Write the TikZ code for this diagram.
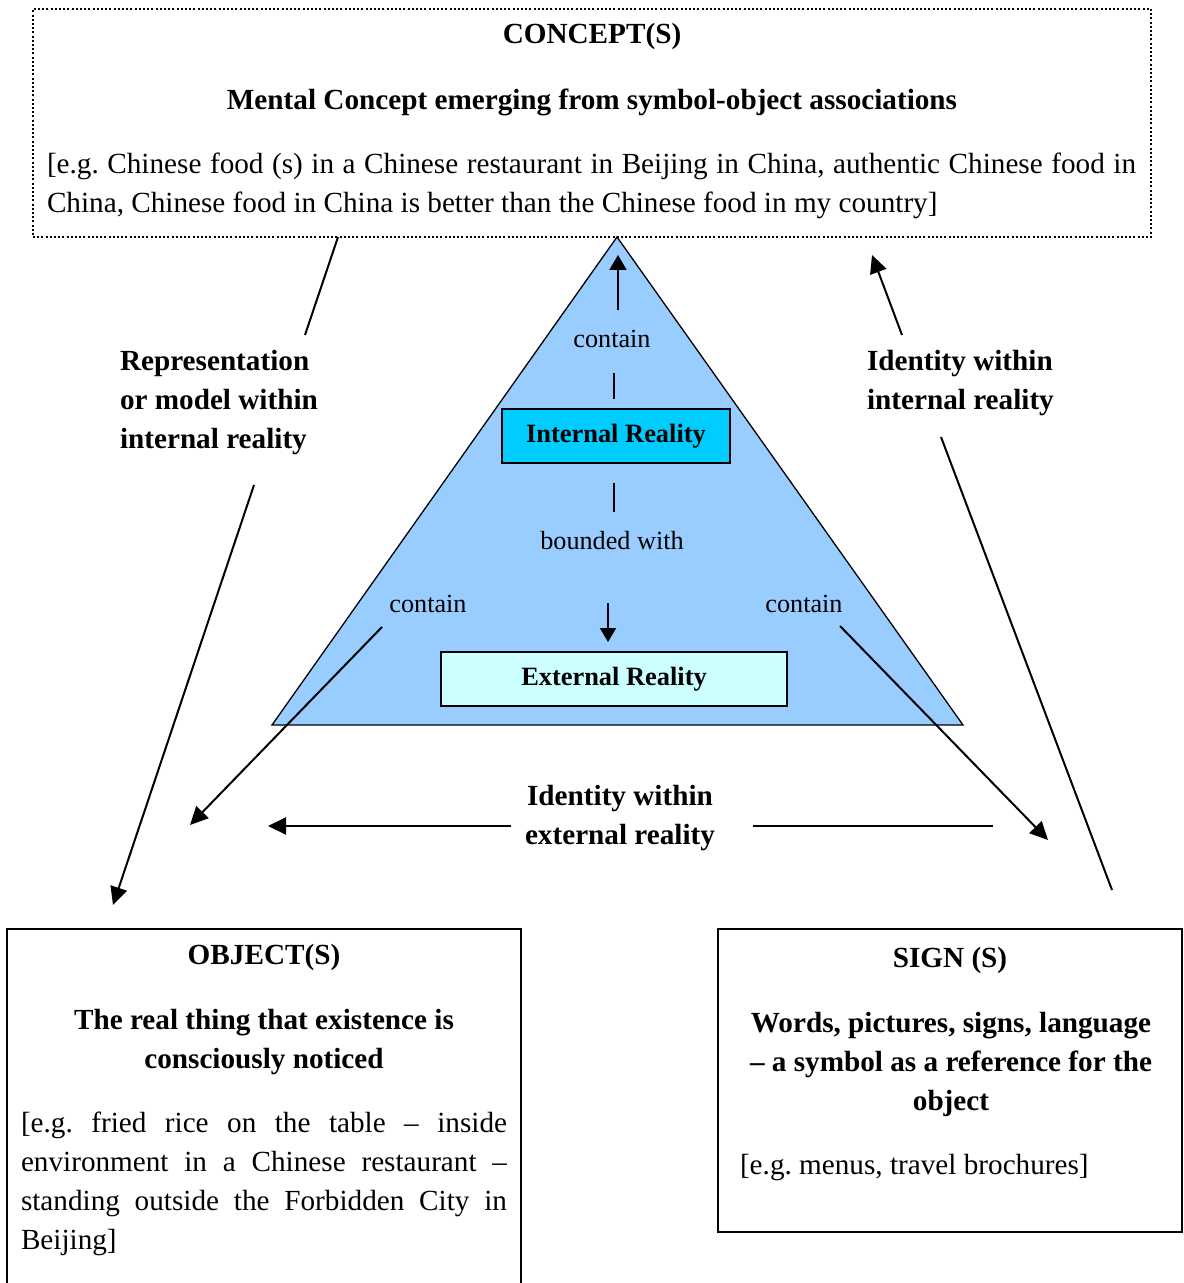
\documentclass[tikz,border=0pt]{standalone}
\usepackage{fontspec}
\setmainfont{Liberation Serif}
\usetikzlibrary{arrows.meta}
\definecolor{pyramid}{HTML}{99CCFF}
\definecolor{inner}{HTML}{00CCFF}
\definecolor{outer}{HTML}{CCFFFF}
\frenchspacing
\hyphenpenalty=10000
\exhyphenpenalty=10000
\begin{document}
\begin{tikzpicture}[x=0.5pt,y=-0.5pt,
  every node/.style={inner sep=0pt,outer sep=0pt},
  txt/.style={font=\fontsize{14.6}{19.5}\selectfont},
  bold/.style={font=\fontsize{14.6}{19.5}\selectfont\bfseries},
  small/.style={font=\fontsize{13.1}{17}\selectfont},
  link/.style={line width=1pt},
  arrowlink/.style={link,-{Triangle[length=9pt,width=8.5pt]}},
  boxframe/.style={draw,line width=0.75pt,minimum width=#1},
  realitybox/.style={draw,line width=0.75pt,minimum height=27pt,font=\fontsize{13.2}{17}\selectfont\bfseries}
]
\useasboundingbox (0,0) rectangle (1183,1283);
\clip (0,0) rectangle (1183,1283);

% concept box (dotted)
\node[draw,line width=1pt,dash pattern=on 1pt off 1.1pt,minimum width=559pt,minimum height=114pt] (concept) at (592,123) {};
\node[bold] (ctitle) at (592,36) {CONCEPT(S)};
\node[bold] (csub) at (592,102) {Mental Concept emerging from symbol-object associations};
\node[txt,text width=544.5pt,align=justify] (ctext) at (591.5,185.5)
  {[e.g.\ Chinese food (s) in a Chinese restaurant in Beijing in China, authentic Chinese food in\linebreak China, Chinese food in China is better than the Chinese food in my country]};

% the pyramid
\coordinate (apex) at (617,237);
\coordinate (bl) at (272,725);
\coordinate (br) at (963,725);
\draw[fill=pyramid,line width=0.65pt] (apex) -- (bl) -- (br) -- cycle;

\node[realitybox,fill=inner,minimum width=114pt] (internal) at (616,436) {Internal Reality};
\node[realitybox,fill=outer,minimum width=173pt] (external) at (614,679) {External Reality};

\node[small] (c1) at (612,339) {contain};
\node[small] (bw) at (612,541) {bounded with};
\node[small] (c2) at (428,604) {contain};
\node[small] (c3) at (804,604) {contain};

% arrows inside the pyramid
\coordinate (upS) at (618,310); \coordinate (upE) at (618,255);
\draw[arrowlink,-{Triangle[length=7.5pt,width=8.5pt]}] (upS) -- (upE);
\coordinate (l1a) at (614,373); \coordinate (l1b) at (614,399);
\draw[link] (l1a) -- (l1b);
\coordinate (l2a) at (614,483); \coordinate (l2b) at (614,512);
\draw[link] (l2a) -- (l2b);
\coordinate (dnS) at (608,603); \coordinate (dnE) at (608,642);
\draw[arrowlink,-{Triangle[length=7pt,width=8pt]}] (dnS) -- (dnE);

% contain arrows to the corners
\coordinate (lcS) at (382,627); \coordinate (lcE) at (190,825);
\draw[arrowlink] (lcS) -- (lcE);
\coordinate (rcS) at (840,626); \coordinate (rcE) at (1048,840);
\draw[arrowlink] (rcS) -- (rcE);

% left side: representation
\coordinate (repA) at (338,237); \coordinate (repB) at (305,335);
\draw[link] (repA) -- (repB);
\node[bold,anchor=west,align=left] (rep) at (120,402.5) {Representation\\or model within\\internal reality};
\coordinate (repC) at (254,485); \coordinate (repD) at (113,905);
\draw[arrowlink] (repC) -- (repD);

% right side: identity within internal reality
\coordinate (idA) at (902,335); \coordinate (idB) at (872,255);
\draw[arrowlink] (idA) -- (idB);
\node[bold,anchor=west,align=left] (idint) at (867,383) {Identity within\\internal reality};
\coordinate (idC) at (941,437); \coordinate (idD) at (1112,890);
\draw[link] (idC) -- (idD);

% bottom: identity within external reality
\node[bold,align=center] (idext) at (620,818) {Identity within\\external reality};
\coordinate (exA) at (511,826); \coordinate (exB) at (268,826);
\draw[arrowlink] (exA) -- (exB);
\coordinate (exC) at (753,826); \coordinate (exD) at (993,826);
\draw[link] (exC) -- (exD);

% object box
\node[boxframe=257pt,minimum height=190pt] (object) at (264,1119) {};
\node[bold] (otitle) at (264,957) {OBJECT(S)};
\node[bold,align=center] (osub) at (264,1042) {The real thing that existence is\\consciously noticed};
\node[txt,text width=243pt,align=justify] (otext) at (264,1184)
  {[e.g.\ fried rice on the table -- inside\linebreak environment in a Chinese restaurant --\linebreak standing outside the Forbidden City in\linebreak Beijing]};

% sign box
\node[boxframe=232pt,minimum height=151.5pt] (sign) at (950,1080.5) {};
\node[bold] (stitle) at (950,960) {SIGN (S)};
\node[bold,align=center] (ssub) at (951,1064.5) {Words, pictures, signs, language\\-- a symbol as a reference for the\\object};
\node[txt,anchor=west] (stext) at (740,1168) {[e.g.\ menus, travel brochures]};
\end{tikzpicture}
\end{document}
